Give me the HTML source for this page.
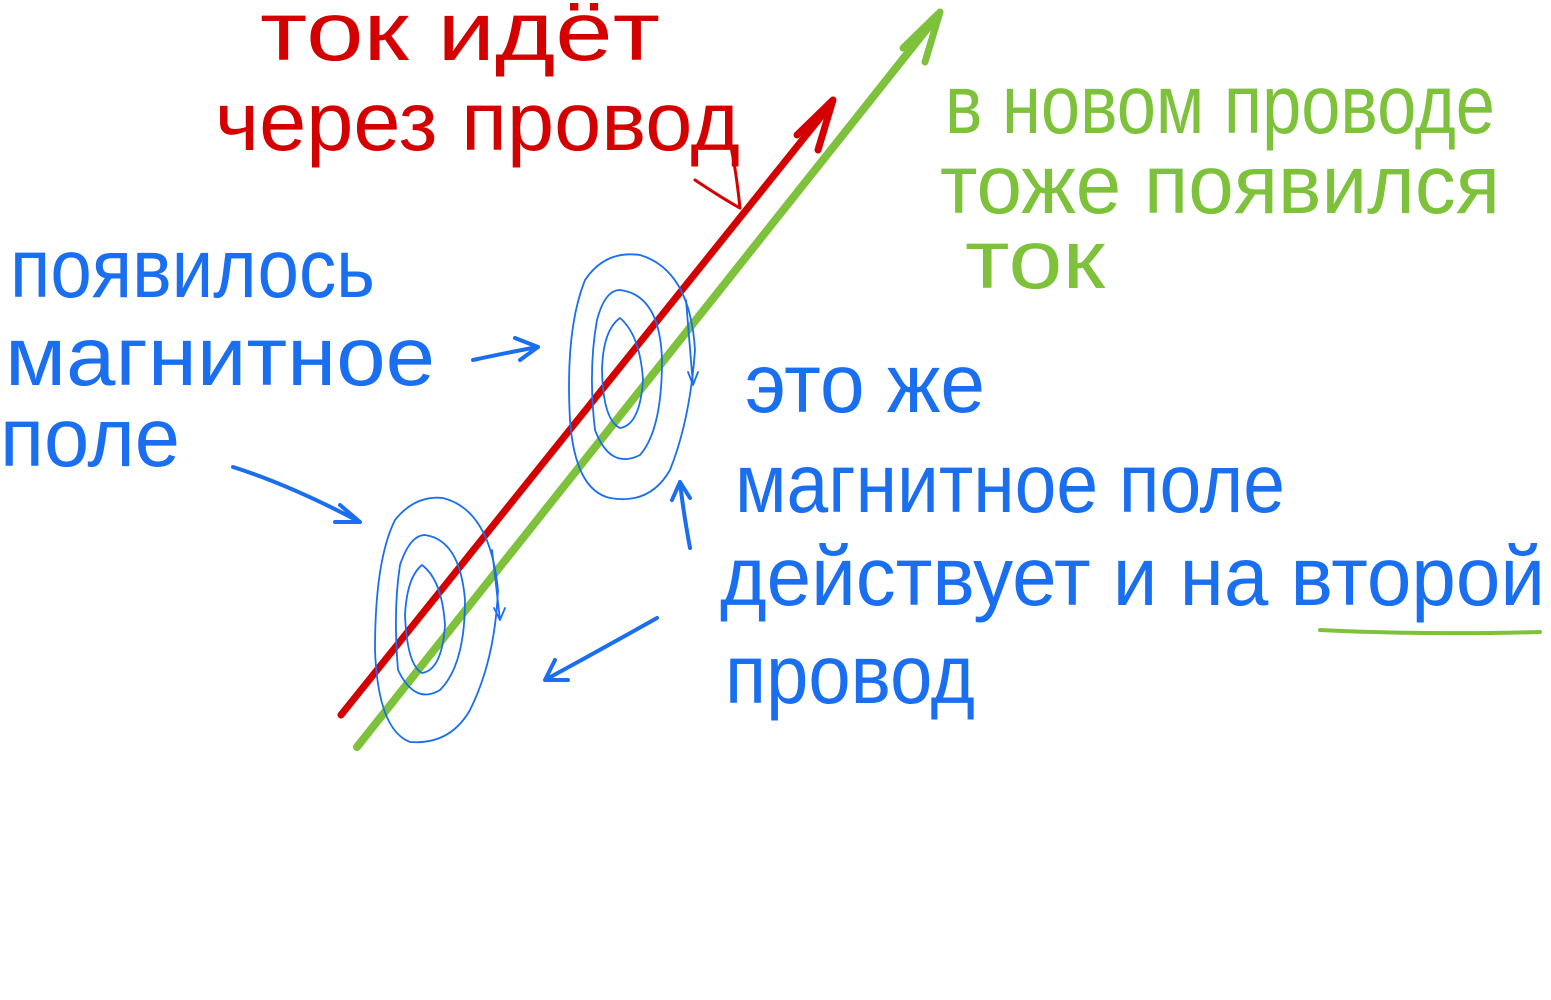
<!DOCTYPE html>
<html><head><meta charset="utf-8"><style>
html,body{margin:0;padding:0;background:#fff;width:1551px;height:1000px;overflow:hidden}
text{font-family:"Liberation Sans",sans-serif;}
</style></head><body>
<svg width="1551" height="1000" viewBox="0 0 1551 1000" xmlns="http://www.w3.org/2000/svg">
<g fill="none" stroke-linecap="round" stroke-linejoin="round">
<line x1="341" y1="715" x2="832" y2="103" stroke="#d40000" stroke-width="7"/>
<path d="M797 135 L833 100 L818 150" stroke="#d40000" stroke-width="7"/>
<line x1="357" y1="747" x2="938" y2="15" stroke="#7dc23a" stroke-width="8"/>
<path d="M903 48 L940 12 L925 62" stroke="#7dc23a" stroke-width="7"/>
<path d="M695 180 Q725 200 740 208 Q735 160 728 135" stroke="#d40000" stroke-width="3"/>
<g stroke="#1a6ef0" stroke-width="1.8">
<path d="M640 255 Q690 270 695 350 Q690 420 670 470 Q650 505 610 498 Q575 490 570 420 Q565 330 585 280 Q605 250 640 255Z"/>
<path d="M620 290 Q660 295 662 360 Q662 430 640 455 Q610 470 595 430 Q588 370 597 320 Q605 290 620 290Z"/>
<path d="M620 318 Q640 335 643 380 Q640 425 620 428 Q603 420 602 370 Q603 330 620 318Z"/>
<path d="M443 498 Q490 510 498 590 Q495 660 470 710 Q450 745 410 742 Q378 730 375 650 Q375 560 395 520 Q415 495 443 498Z"/>
<path d="M425 535 Q460 540 465 600 Q465 665 440 690 Q415 705 398 670 Q393 610 400 565 Q410 535 425 535Z"/>
<path d="M422 565 Q442 580 445 625 Q442 670 422 673 Q407 665 405 615 Q407 577 422 565Z"/>
<path d="M686 300 L693 385 M688 372 L693 385 L698 372"/>
<path d="M492 550 L500 620 M494 608 L500 620 L505 608"/>
</g>
<g stroke="#1a6ef0" stroke-width="4">
<path d="M473 360 Q510 352 538 347 M515 338 L538 347 L520 360"/>
<path d="M233 467 Q290 485 360 522 M340 505 L360 522 L335 522"/>
<path d="M690 548 Q683 510 680 482 M672 500 L680 482 L690 498"/>
<path d="M657 618 Q600 650 545 680 M555 660 L545 680 L568 680"/>
</g>
<path d="M1320 630 Q1420 635 1540 632" stroke="#7dc23a" stroke-width="4"/>
</g>
<g font-size="52">
<g transform="translate(260,60) scale(1,1.6)"><text fill="#d40000" textLength="400" lengthAdjust="spacingAndGlyphs">ток идёт</text></g>
<g transform="translate(215,150) scale(1,1.6)"><text fill="#d40000" textLength="525" lengthAdjust="spacingAndGlyphs">через провод</text></g>
<g transform="translate(945,133) scale(1,1.6)"><text fill="#7dc23a" textLength="550" lengthAdjust="spacingAndGlyphs">в новом проводе</text></g>
<g transform="translate(940,213) scale(1,1.6)"><text fill="#7dc23a" textLength="560" lengthAdjust="spacingAndGlyphs">тоже появился</text></g>
<g transform="translate(965,288) scale(1,1.6)"><text fill="#7dc23a" textLength="140" lengthAdjust="spacingAndGlyphs">ток</text></g>
<g transform="translate(10,297) scale(1,1.6)"><text fill="#1a6ef0" textLength="365" lengthAdjust="spacingAndGlyphs">появилось</text></g>
<g transform="translate(5,385) scale(1,1.6)"><text fill="#1a6ef0" textLength="430" lengthAdjust="spacingAndGlyphs">магнитное</text></g>
<g transform="translate(0,466) scale(1,1.6)"><text fill="#1a6ef0" textLength="180" lengthAdjust="spacingAndGlyphs">поле</text></g>
<g transform="translate(745,412) scale(1,1.6)"><text fill="#1a6ef0" textLength="240" lengthAdjust="spacingAndGlyphs">это же</text></g>
<g transform="translate(735,512) scale(1,1.6)"><text fill="#1a6ef0" textLength="550" lengthAdjust="spacingAndGlyphs">магнитное поле</text></g>
<g transform="translate(720,605) scale(1,1.6)"><text fill="#1a6ef0" textLength="825" lengthAdjust="spacingAndGlyphs">действует и на второй</text></g>
<g transform="translate(725,703) scale(1,1.6)"><text fill="#1a6ef0" textLength="250" lengthAdjust="spacingAndGlyphs">провод</text></g>
</g>
</svg>
</body></html>
